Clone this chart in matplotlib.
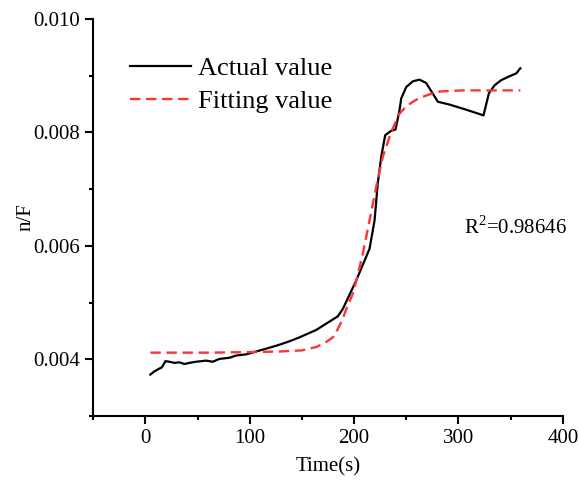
# Actual vs fitted n/F over time

import numpy as np
import matplotlib.pyplot as plt
from matplotlib.ticker import MultipleLocator

plt.rcParams['font.family'] = ['Liberation Serif', 'DejaVu Serif']
plt.rcParams['mathtext.fontset'] = 'custom'
plt.rcParams['mathtext.rm'] = 'Liberation Serif'

# Measured curve
t_actual = [4.8, 8.6, 13.4, 15.7, 19.2, 23, 27.8, 32.6, 37.4, 42.2, 48.6, 58.2, 64.5,
            71, 80.5, 87, 96.5, 106, 115.7, 128.5, 138, 147.7, 163.7, 184.4, 189.2,
            202, 214.8, 219.6, 222.7, 226, 229.8, 235.6, 239.7, 243.5, 245.2, 250,
            256.3, 262.7, 269.1, 275.5, 280.3, 291.5, 307.5, 324, 329.2, 334.6, 341,
            349, 355.4, 359.3]
nF_actual = [0.003735, 0.00379, 0.00384, 0.00386, 0.00397, 0.00396, 0.00394, 0.00395,
             0.00392, 0.00394, 0.00396, 0.00398, 0.00396, 0.00401, 0.00403, 0.00407,
             0.00409, 0.00414, 0.00419, 0.00426, 0.00432, 0.00439, 0.00452, 0.00476,
             0.00489, 0.00539, 0.00595, 0.00645, 0.00710, 0.00757, 0.00795, 0.00803,
             0.00805, 0.00839, 0.00860, 0.00880, 0.00890, 0.00893, 0.00887, 0.00868,
             0.00854, 0.00849, 0.00840, 0.00830, 0.00869, 0.00883, 0.00892, 0.00899,
             0.00904, 0.00913]

# Fitted curve
t_fit = [4.8, 60, 100, 128.5, 150, 163.7, 172, 179.6, 184, 189.2, 193, 198.8, 203,
         208.3, 214.8, 221.2, 227.5, 235.6, 243.5, 250, 256.3, 263, 272.3, 281.9,
         291.5, 304.2, 330, 359.3]
nF_fit = [0.00412, 0.00412, 0.00413, 0.00414, 0.00416, 0.00422, 0.00429, 0.00439,
          0.00452, 0.00472, 0.00491, 0.00516, 0.00545, 0.00586, 0.00645, 0.00704,
          0.00757, 0.00801, 0.00833, 0.00846, 0.00854, 0.00861, 0.00867, 0.00872,
          0.00873, 0.00874, 0.00874, 0.00874]

fig = plt.figure(figsize=(5.79, 4.84), dpi=100)
ax = fig.add_axes([0.161, 0.140, 0.811, 0.821])

ax.plot(t_actual, nF_actual, color='k', lw=1.6, label='Actual value')
ax.plot(t_fit, nF_fit, color='#FF3333', lw=1.7, ls=(0, (4.4, 2.4)), label='Fitting value')

ax.set_xlim(-50, 400)
ax.set_ylim(0.003, 0.010)
ax.xaxis.set_major_locator(MultipleLocator(100))
ax.xaxis.set_minor_locator(MultipleLocator(50))
ax.yaxis.set_minor_locator(MultipleLocator(0.001))
ax.set_yticks([0.004, 0.006, 0.008, 0.010])
ax.set_yticklabels(['0.004', '0.006', '0.008', '0.010'])

for s in ['top', 'right']:
    ax.spines[s].set_visible(False)
for s in ['left', 'bottom']:
    ax.spines[s].set_linewidth(1.5)
ax.tick_params(which='major', direction='out', length=6, width=1.5, labelsize=15)
ax.tick_params(which='minor', direction='out', length=3, width=1.5)

ax.set_xlabel('Time(s)', fontsize=15, labelpad=6)
ax.set_ylabel('n/F', fontsize=15, labelpad=-2)

ax.text(0.79, 0.475, r'R$^2$=0.98646', transform=ax.transAxes, fontsize=15,
        ha='left', va='center')

ax.legend(loc='upper left', bbox_to_anchor=(0.078, 0.905), frameon=False,
          fontsize=19, handlelength=2.3, handletextpad=0.3, labelspacing=0.35,
          borderpad=0, borderaxespad=0)

plt.savefig('out.png', dpi=100)
